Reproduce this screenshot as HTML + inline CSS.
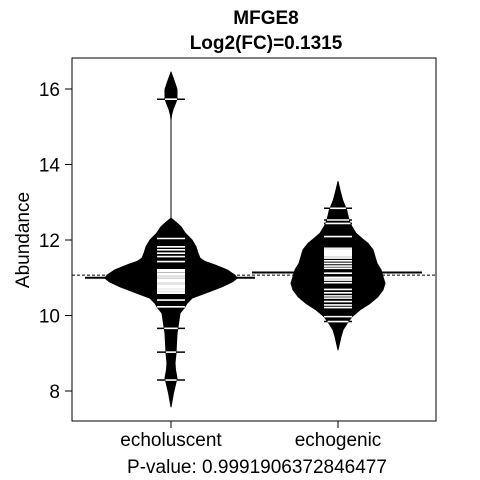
<!DOCTYPE html>
<html><head><meta charset="utf-8"><style>
html,body{margin:0;padding:0;background:#fff}
svg{display:block;font-family:"Liberation Sans",Arial,sans-serif}
</style></head><body>
<svg id="chart" width="480" height="480" viewBox="0 0 480 480">
<text x="266" y="24" text-anchor="middle" font-size="19" font-weight="bold">MFGE8</text>
<text x="266" y="49" text-anchor="middle" font-size="19" font-weight="bold">Log2(FC)=0.1315</text>
<text transform="translate(29,240) rotate(-90)" text-anchor="middle" font-size="19">Abundance</text>
<text x="257" y="473" text-anchor="middle" font-size="19">P-value: 0.9991906372846477</text>
<g id="marks"></g>
<g id="axes"></g>
<rect x="72" y="58" width="364" height="363" fill="none" stroke="#000" stroke-width="1"/>
</svg>
<script>
const categories = ["echoluscent","echogenic"];
const yTicks = [8,10,12,14,16];
const densityValues0 = [16.45,16.3,16.15,15.99,15.84,15.73,15.59,15.46,15.3,15.18,12.58,12.47,12.35,12.19,12.0,11.82,11.65,11.52,11.43,11.34,11.21,11.07,10.99,10.90,10.76,10.59,10.46,10.32,10.19,10.06,9.88,9.70,9.52,9.27,9.0,8.74,8.56,8.34,8.12,7.95,7.58];
const densityWidths0 = [0,2,4,6,6,6,4,2,0.5,0,0,5,10,14,21,25,27,29,34,44,56,64,66,62,51,34,21,16,13,9,8,7,6,5.5,5,4,4.5,6,4,2.5,0];
const densityValues1 = [13.55,13.32,13.05,12.79,12.53,12.35,12.18,12.04,11.91,11.74,11.56,11.38,11.21,11.03,10.85,10.68,10.50,10.32,10.15,9.97,9.79,9.62,9.44,9.09];
const densityWidths1 = [0,2,4.7,8.7,11,14,18,24,30,35,37,39,43,45,47,45,40,32,22,14,9,5,3,0];
const points0 = [15.73,12.04,11.82,11.74,11.65,11.56,11.43,11.21,11.17,11.12,11.08,11.05,11.02,10.99,10.95,10.92,10.88,10.85,10.82,10.79,10.75,10.72,10.69,10.66,10.62,10.59,10.41,10.23,9.66,9.03,8.29];
const points1 = [12.84,12.53,12.44,12.09,11.78,11.75,11.72,11.69,11.65,11.62,11.58,11.55,11.52,11.45,11.38,11.31,11.25,11.12,11.01,10.97,10.94,10.87,10.69,10.6,10.52,10.46,10.37,10.28,10.21,9.97,9.84];
const medians = [11.0,11.14];
const overallMean = 11.07;

const NS="http://www.w3.org/2000/svg";
const yScale = v => 391 - (v-8)*37.75;
const xScale = i => [171,338][i];
const marks = document.getElementById('marks');
const axes = document.getElementById('axes');
function mk(tag, attrs, parent){const e=document.createElementNS(NS,tag);for(const k in attrs)e.setAttribute(k,attrs[k]);parent.appendChild(e);return e;}

const ml = mk('line',{x1:72,x2:436,y1:yScale(overallMean),y2:yScale(overallMean),stroke:'#000','stroke-width':1,'stroke-dasharray':'3,2'},marks);



const dens = [[densityValues0,densityWidths0],[densityValues1,densityWidths1]];
const pts = [points0,points1];
function hwAt(i,v){const [vs,ws]=dens[i];for(let k=0;k<vs.length-1;k++){const a=vs[k],b=vs[k+1];if(v<=a&&v>=b){const t=(a-v)/(a-b||1);return ws[k]+t*(ws[k+1]-ws[k]);}}return 0;}
for(let i=0;i<2;i++){
  const [vs,ws]=dens[i]; const cx=xScale(i);
  let d='';
  vs.forEach((v,k)=>{d+=(k?'L':'M')+(cx+ws[k])+','+yScale(v);});
  for(let k=vs.length-1;k>=0;k--) d+='L'+(cx-ws[k])+','+yScale(vs[k]);
  d+='Z';
  const p=mk('path',{d:d,fill:'#000',stroke:'#000','stroke-width':1,'stroke-linejoin':'round'},marks);
  
  
  const st=mk('line',{x1:cx,x2:cx,y1:yScale(vs[0]),y2:yScale(vs[vs.length-1]),stroke:'#000','stroke-width':1},marks);
  
  
  const md=mk('line',{x1:cx-86,x2:cx+84,y1:yScale(medians[i]),y2:yScale(medians[i]),stroke:'#000','stroke-width':2},marks);
  
  
  pts[i].forEach(v=>{
    const y=yScale(v);
    const bl=mk('line',{x1:cx-14,x2:cx+14,y1:y,y2:y,stroke:'#000','stroke-width':1.5},marks);
    
    
    const w=Math.min(14,hwAt(i,v));
    const wl=mk('line',{x1:cx-w,x2:cx+w,y1:y,y2:y,stroke:'#fff','stroke-width':1.6},marks);
    
    
  });
  const xl=mk('text',{x:cx,y:446,'text-anchor':'middle','font-size':19},axes);
  xl.textContent=categories[i];
  
  
  const xt=mk('line',{x1:cx,x2:cx,y1:421,y2:428,stroke:'#000'},axes);
  
  
}
yTicks.forEach(t=>{
  const y=yScale(t);
  const tk=mk('line',{x1:65,x2:72,y1:y,y2:y,stroke:'#000'},axes);
  
  
  const tl=mk('text',{x:60,y:y+7,'text-anchor':'end','font-size':19},axes);
  tl.textContent=t;
  
  
});
</script>
</body></html>
